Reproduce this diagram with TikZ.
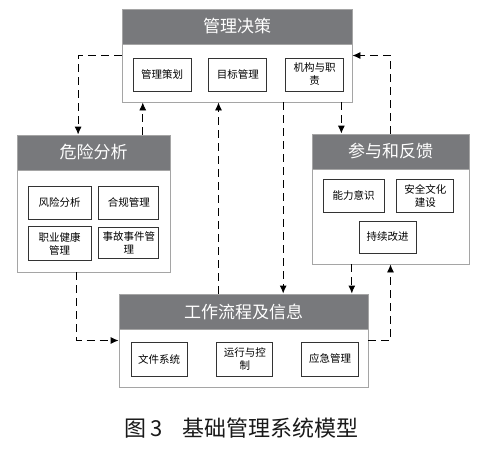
\documentclass[tikz,border=0pt]{standalone}
\usepackage{fontspec}
\setmainfont{Noto Sans CJK SC}
\usetikzlibrary{arrows.meta,positioning,calc}
\definecolor{headgray}{RGB}{120,121,124}
\definecolor{panelline}{RGB}{165,165,165}

\begin{document}
\begin{tikzpicture}[
    x=1pt, y=-1pt,
    font=\fontsize{10.5}{13}\selectfont,
    panel/.style={draw=panelline, line width=0.9pt, fill=white, inner sep=0pt},
    head/.style={draw=panelline, fill=headgray, line width=0.9pt, text=white, minimum height=35pt, inner sep=0pt, font=\fontsize{17}{20}\selectfont},
    item/.style={draw=black!80, line width=0.8pt, align=center, minimum width=58pt, minimum height=33pt, inner sep=1pt},
    link/.style={dash pattern=on 8pt off 5pt, line width=0.9pt, -{Latex[length=8pt,width=7pt]}}
]
\useasboundingbox (0,0) rectangle (490,460);

% management decision
\node[panel, minimum width=230pt, minimum height=93pt] (dec) at (237,55.5) {};
\node[head, minimum width=230pt, anchor=north] (decT) at (dec.north) {管理决策};
\node[item] (plan) at (162,74.5) {管理策划};
\node[item, right=17pt of plan] (goal) {目标管理};
\node[item, right=18pt of goal] (org) {机构与职\\责};

% hazard analysis
\node[panel, minimum width=153pt, minimum height=137pt] (haz) at (93.5,203.5) {};
\node[head, minimum width=153pt, anchor=north] (hazT) at (haz.north) {危险分析};
\node[item, minimum width=63pt] (risk) at (59.5,202.5) {风险分析};
\node[item, minimum width=60pt, right=7pt of risk] (comp) {合规管理};
\node[item, minimum width=63pt, minimum height=34pt, below=7pt of risk] (ohs) {职业健康\\管理};
\node[item, minimum width=60pt, minimum height=31pt, below=8pt of comp] (acc) {事故事件管\\理};

% participation and feedback
\node[panel, minimum width=157pt, minimum height=130pt] (par) at (390.5,199) {};
\node[head, minimum width=157pt, anchor=north] (parT) at (par.north) {参与和反馈};
\node[item, minimum width=61pt] (aware) at (353.5,195.5) {能力意识};
\node[item, minimum width=57pt, right=12pt of aware] (cult) {安全文化\\建设};
\node[item, minimum width=57pt, minimum height=32pt] (impr) at (387.5,237) {持续改进};

% work flow and information
\node[panel, minimum width=249pt, minimum height=93pt] (flow) at (243.5,340.5) {};
\node[head, minimum width=249pt, anchor=north] (flowT) at (flow.north) {工作流程及信息};
\node[item, minimum width=56pt, minimum height=34pt] (docs) at (159,359) {文件系统};
\node[item, minimum width=56pt, minimum height=34pt, right=29pt of docs] (ops) {运行与控\\制};
\node[item, minimum width=57pt, minimum height=34pt, right=28pt of ops] (emer) {应急管理};

% dashed links
\coordinate (hazIn) at ($(haz.north west)!0.4!(haz.north east)$);
\coordinate (hazUp) at ($(haz.north west)!0.82!(haz.north east)$);
\coordinate (hazDn) at ($(haz.south west)!0.39!(haz.south east)$);
\coordinate (flowUp) at ($(flow.north west)!0.4!(flow.north east)$);
\coordinate (decDn) at ($(dec.south west)!0.7!(dec.south east)$);
\coordinate (decRt) at ($(dec.south west)!0.952!(dec.south east)$);
\coordinate (parDn) at ($(par.south west)!0.255!(par.south east)$);

\draw[link] (dec.west) -| (hazIn);
\draw[link] (hazUp) -- (hazUp |- dec.south);
\draw[link] (flowUp) -- (flowUp |- dec.south);
\draw[link] (decDn) -- (decDn |- flow.north);
\draw[link] (decRt) -- (decRt |- par.north);
\draw[link] (par.north) |- (dec.east);
\draw[link] (parDn) -- (parDn |- flow.north);
\draw[link] (flow.east) -| (par.south);
\draw[link] (hazDn) |- (flow.west);

\node[font=\fontsize{22}{26}\selectfont, text=black!90] (cap) at (241.5,428) {图 3\hspace{0.9em}基础管理系统模型};
\end{tikzpicture}
\end{document}
